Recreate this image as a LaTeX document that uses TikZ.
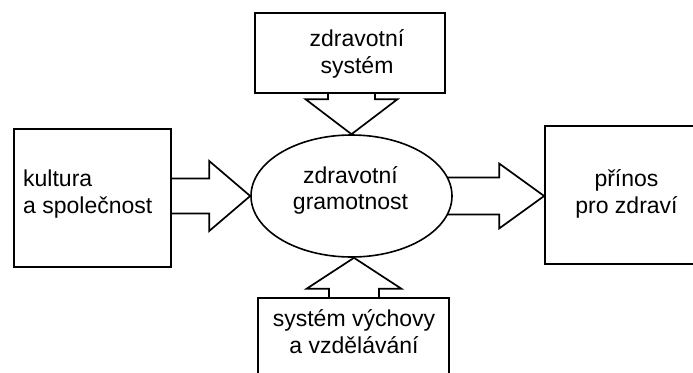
\documentclass[tikz,border=0pt]{standalone}
\usepackage{fontspec}
\setmainfont{Liberation Sans}
\usetikzlibrary{backgrounds,calc,shapes.geometric}

% block arrow drawn in local coordinates: tip at the origin, pointing along +x
% #1 placement options, #2 head length, #3 head half width, #4 shaft half width, #5 tail length
\newcommand\blockarrow[5]{%
  \begin{scope}[#1]
    \draw[arrowline] (0,0) -- (-#2,#3) -- (-#2,#4) -- (-#5,#4) -- (-#5,-#4)
      -- (-#2,-#4) -- (-#2,-#3) -- cycle;
  \end{scope}}

\begin{document}
\begin{tikzpicture}[x=1pt,y=-1pt,
  box/.style={draw=black, fill=white, line width=1.7pt, inner sep=0pt},
  oval/.style={draw=black, fill=white, line width=1.6pt, ellipse, inner sep=0pt,
    minimum width=201pt, minimum height=122pt},
  arrowline/.style={draw=black, fill=white, line width=1.7pt, line join=miter},
  txt/.style={inner sep=0pt, font=\fontsize{23}{26.8}\selectfont, text=black}]
  \useasboundingbox (0,0) rectangle (693,372);

  % boxes and the central ellipse
  \node[box, minimum width=190pt, minimum height=80pt] (zdrsys) at (350,53) {};
  \node[box, minimum width=157pt, minimum height=138pt] (kult) at (92.5,198) {};
  \node[box, minimum width=167pt, minimum height=138pt] (prin) at (628.5,195) {};
  \node[box, minimum width=191pt, minimum height=87pt] (vych) at (353.5,341.5) {};
  \node[oval] (ell) at (351.5,196) {};

  % labels
  \node[txt, align=center] (zdrsysT) at (357,54) {zdravotní\\systém};
  \node[txt, align=left, anchor=west] (kultT) at (23,194) {kultura\\a společnost};
  \node[txt, align=center] (prinT) at (626.5,194) {přínos\\pro zdraví};
  \node[txt, align=center] (vychT) at (354,331.5) {systém výchovy\\a vzdělávání};
  \node[txt, align=center] (ellT) at (350.5,190.5) {zdravotní\\gramotnost};

  % block arrows, tails hidden under the filled shapes
  \begin{scope}[on background layer]
    \blockarrow{shift={(ell.west)}}{41}{35}{17.5}{100}
    \blockarrow{shift={(ell.east -| prin.west)}}{45}{32.5}{18.5}{120}
    \blockarrow{shift={(ell.north)}, rotate=-90}{35}{46}{23.5}{60}
    \blockarrow{shift={($(ell.south)+(2.5,0)$)}, rotate=90}{31}{47.5}{25}{70}
  \end{scope}
\end{tikzpicture}
\end{document}
